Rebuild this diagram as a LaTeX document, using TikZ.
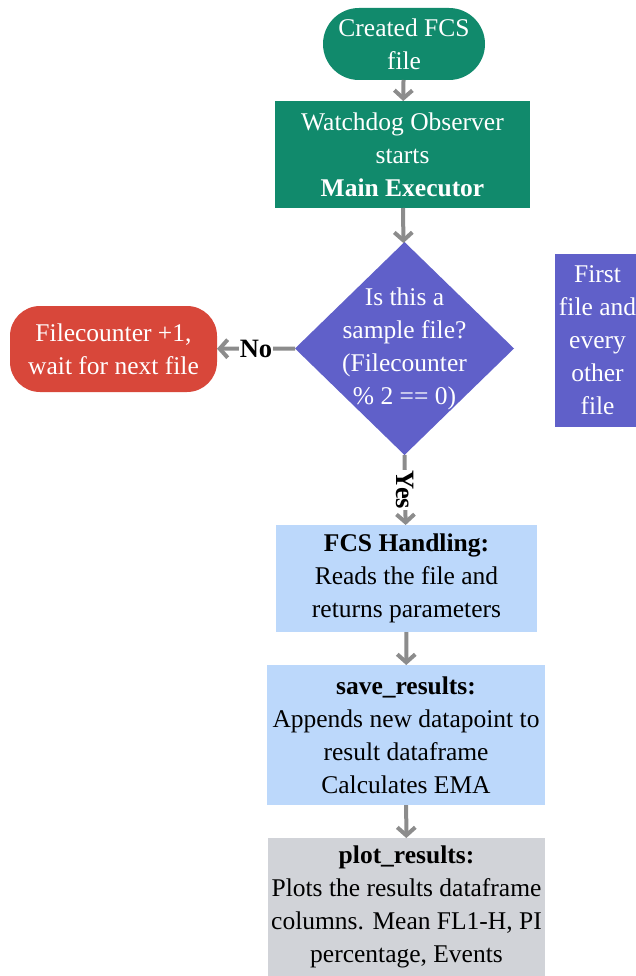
\documentclass[tikz,border=0pt]{standalone}
\usepackage{fontspec}
\setmainfont{Liberation Serif}
\usepackage{tikz}
\usetikzlibrary{positioning,
				arrows.meta,
				shapes.geometric}
\definecolor{flowgreen}{HTML}{118A6C}
\definecolor{flowred}{HTML}{D8473A}
\definecolor{flowpurple}{HTML}{6060C9}
\definecolor{flowblue}{HTML}{BCD8FB}
\definecolor{flowgray}{HTML}{D1D3D8}
\definecolor{linkgray}{HTML}{8C8C8C}

\begin{document}
\begin{tikzpicture}[x=1pt,y=-1pt,
		font=\fontsize{25.5}{33}\selectfont,
		box/.style={rectangle, align=center, inner sep=0pt, outer sep=0pt},
		darkbox/.style={box, fill=#1, text=white},
		lightbox/.style={box, fill=#1, text=black},
		decision/.style={diamond, fill=flowpurple, inner sep=0pt, outer sep=0pt, minimum width=219pt, minimum height=213pt},
		link/.style={draw=linkgray, line width=4pt, -{Straight Barb[length=8pt,width=18pt,line width=4pt]}},
		answer/.style={fill=white, text=black, font=\fontsize{26.5}{33}\selectfont\bfseries, inner sep=1pt}]
	\useasboundingbox (0,0) rectangle (636,976);
	% main column
	\node[darkbox=flowgreen, rounded corners=36pt, minimum width=162pt, minimum height=72pt] (created) at (404,44) {Created FCS\\file};
	\node[darkbox=flowgreen, minimum width=255pt, minimum height=107pt] (watchdog) at (402.5,154.5) {Watchdog Observer\\starts\\\textbf{Main Executor}};
	\node[decision] (sample) at (404.5,348.5) {};
	\node[box, text=white] (sampletext) at (sample) {Is this a\\sample file?\\(Filecounter\\\% 2 == 0)};
	\node[lightbox=flowblue, minimum width=261pt, minimum height=107pt] (fcs) at (406.5,578.5) {\textbf{FCS Handling:}\\Reads the file and\\returns parameters};
	\node[lightbox=flowblue, minimum width=278pt, minimum height=140pt] (save) at (406,735) {\textbf{save\_results:}\\Appends new datapoint to\\result dataframe\\Calculates EMA};
	\node[lightbox=flowgray, minimum width=277pt, minimum height=138pt] (plot) at (406.5,907) {\textbf{plot\_results:}\\Plots the results dataframe\\columns. Mean FL1-H, PI\\percentage, Events};
	% side nodes
	\node[darkbox=flowred, rounded corners=30pt, minimum width=207pt, minimum height=86pt] (wait) at (113.5,349) {Filecounter +1,\\wait for next file};
	\node[darkbox=flowpurple, minimum width=86pt, minimum height=173pt] (every) at (597.5,340.5) {First\\file and\\every\\other\\file};
	% connectors
	\draw[link] (created) -- (watchdog);
	\draw[link] (watchdog) -- (sample);
	\draw[link] (sample.west) -- node[answer] {No} (wait);
	\draw[link] (sample.south) -- node[answer, rotate=-90] {Yes} (fcs);
	\draw[link] (fcs) -- (save);
	\draw[link] (save) -- (plot);
\end{tikzpicture}
\end{document}
